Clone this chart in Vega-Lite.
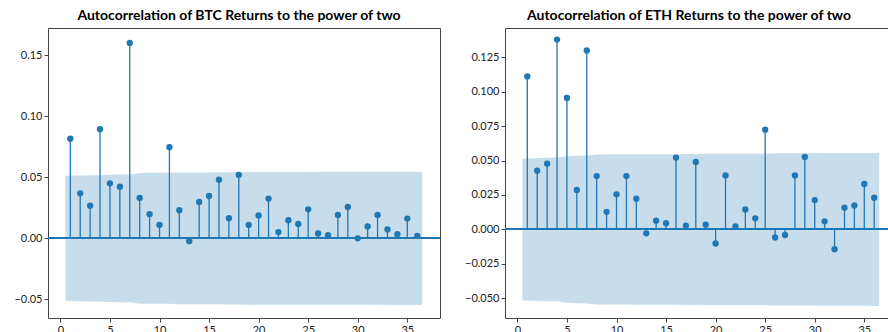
{
  "$schema": "https://vega.github.io/schema/vega-lite/v6.json",
  "autosize": {"type": "pad"},
  "padding": {"left": 13, "top": 8, "right": 0, "bottom": 0},
  "spacing": 22,
  "background": "white",
  "config": {
    "view": {"stroke": "#444", "strokeWidth": 1},
    "axis": {
      "grid": false, "domain": false, "tickColor": "#444", "tickSize": 4, "tickWidth": 1,
      "labelFont": "Lato", "labelFontSize": 11, "labelColor": "#222", "labelPadding": 2, "title": null
    },
    "title": {"font": "Lato", "fontSize": 14, "fontWeight": "bold", "color": "#000", "offset": 5}
  },
  "datasets": {
    "btc": [
      {"lag": 1, "acf": 0.0816, "bx": 0.5, "lo": -0.0513, "hi": 0.0513},
      {"lag": 2, "acf": 0.0369, "bx": 2, "lo": -0.0516, "hi": 0.0516},
      {"lag": 3, "acf": 0.0268, "bx": 3, "lo": -0.0517, "hi": 0.0517},
      {"lag": 4, "acf": 0.0894, "bx": 4, "lo": -0.0518, "hi": 0.0518},
      {"lag": 5, "acf": 0.0451, "bx": 5, "lo": -0.0522, "hi": 0.0522},
      {"lag": 6, "acf": 0.0423, "bx": 6, "lo": -0.0523, "hi": 0.0523},
      {"lag": 7, "acf": 0.1602, "bx": 7, "lo": -0.0523, "hi": 0.0523},
      {"lag": 8, "acf": 0.0331, "bx": 8, "lo": -0.0536, "hi": 0.0536},
      {"lag": 9, "acf": 0.0198, "bx": 9, "lo": -0.0537, "hi": 0.0537},
      {"lag": 10, "acf": 0.011, "bx": 10, "lo": -0.0537, "hi": 0.0537},
      {"lag": 11, "acf": 0.0747, "bx": 11, "lo": -0.0537, "hi": 0.0537},
      {"lag": 12, "acf": 0.023, "bx": 12, "lo": -0.054, "hi": 0.054},
      {"lag": 13, "acf": -0.0023, "bx": 13, "lo": -0.054, "hi": 0.054},
      {"lag": 14, "acf": 0.0298, "bx": 14, "lo": -0.054, "hi": 0.054},
      {"lag": 15, "acf": 0.0347, "bx": 15, "lo": -0.054, "hi": 0.054},
      {"lag": 16, "acf": 0.048, "bx": 16, "lo": -0.0541, "hi": 0.0541},
      {"lag": 17, "acf": 0.0165, "bx": 17, "lo": -0.0542, "hi": 0.0542},
      {"lag": 18, "acf": 0.052, "bx": 18, "lo": -0.0542, "hi": 0.0542},
      {"lag": 19, "acf": 0.011, "bx": 19, "lo": -0.0544, "hi": 0.0544},
      {"lag": 20, "acf": 0.0187, "bx": 20, "lo": -0.0544, "hi": 0.0544},
      {"lag": 21, "acf": 0.0326, "bx": 21, "lo": -0.0544, "hi": 0.0544},
      {"lag": 22, "acf": 0.0051, "bx": 22, "lo": -0.0544, "hi": 0.0544},
      {"lag": 23, "acf": 0.0149, "bx": 23, "lo": -0.0544, "hi": 0.0544},
      {"lag": 24, "acf": 0.0118, "bx": 24, "lo": -0.0544, "hi": 0.0544},
      {"lag": 25, "acf": 0.0238, "bx": 25, "lo": -0.0544, "hi": 0.0544},
      {"lag": 26, "acf": 0.004, "bx": 26, "lo": -0.0545, "hi": 0.0545},
      {"lag": 27, "acf": 0.0026, "bx": 27, "lo": -0.0545, "hi": 0.0545},
      {"lag": 28, "acf": 0.0192, "bx": 28, "lo": -0.0545, "hi": 0.0545},
      {"lag": 29, "acf": 0.0257, "bx": 29, "lo": -0.0545, "hi": 0.0545},
      {"lag": 30, "acf": 0.0, "bx": 30, "lo": -0.0545, "hi": 0.0545},
      {"lag": 31, "acf": 0.0097, "bx": 31, "lo": -0.0545, "hi": 0.0545},
      {"lag": 32, "acf": 0.0192, "bx": 32, "lo": -0.0545, "hi": 0.0545},
      {"lag": 33, "acf": 0.0073, "bx": 33, "lo": -0.0546, "hi": 0.0546},
      {"lag": 34, "acf": 0.0034, "bx": 34, "lo": -0.0546, "hi": 0.0546},
      {"lag": 35, "acf": 0.0162, "bx": 35, "lo": -0.0546, "hi": 0.0546},
      {"lag": 36, "acf": 0.002, "bx": 36.5, "lo": -0.0546, "hi": 0.0546}
    ],
    "eth": [
      {"lag": 1, "acf": 0.111, "bx": 0.5, "lo": -0.0513, "hi": 0.0513},
      {"lag": 2, "acf": 0.0426, "bx": 2, "lo": -0.0519, "hi": 0.0519},
      {"lag": 3, "acf": 0.0477, "bx": 3, "lo": -0.052, "hi": 0.052},
      {"lag": 4, "acf": 0.1377, "bx": 4, "lo": -0.0521, "hi": 0.0521},
      {"lag": 5, "acf": 0.0954, "bx": 5, "lo": -0.0531, "hi": 0.0531},
      {"lag": 6, "acf": 0.0287, "bx": 6, "lo": -0.0535, "hi": 0.0535},
      {"lag": 7, "acf": 0.1298, "bx": 7, "lo": -0.0536, "hi": 0.0536},
      {"lag": 8, "acf": 0.0387, "bx": 8, "lo": -0.0544, "hi": 0.0544},
      {"lag": 9, "acf": 0.0128, "bx": 9, "lo": -0.0545, "hi": 0.0545},
      {"lag": 10, "acf": 0.0255, "bx": 10, "lo": -0.0545, "hi": 0.0545},
      {"lag": 11, "acf": 0.0387, "bx": 11, "lo": -0.0545, "hi": 0.0545},
      {"lag": 12, "acf": 0.0223, "bx": 12, "lo": -0.0546, "hi": 0.0546},
      {"lag": 13, "acf": -0.0028, "bx": 13, "lo": -0.0546, "hi": 0.0546},
      {"lag": 14, "acf": 0.0064, "bx": 14, "lo": -0.0546, "hi": 0.0546},
      {"lag": 15, "acf": 0.0045, "bx": 15, "lo": -0.0546, "hi": 0.0546},
      {"lag": 16, "acf": 0.0521, "bx": 16, "lo": -0.0546, "hi": 0.0546},
      {"lag": 17, "acf": 0.0028, "bx": 17, "lo": -0.0547, "hi": 0.0547},
      {"lag": 18, "acf": 0.049, "bx": 18, "lo": -0.0547, "hi": 0.0547},
      {"lag": 19, "acf": 0.0035, "bx": 19, "lo": -0.0549, "hi": 0.0549},
      {"lag": 20, "acf": -0.0102, "bx": 20, "lo": -0.0549, "hi": 0.0549},
      {"lag": 21, "acf": 0.0392, "bx": 21, "lo": -0.0549, "hi": 0.0549},
      {"lag": 22, "acf": 0.0023, "bx": 22, "lo": -0.0549, "hi": 0.0549},
      {"lag": 23, "acf": 0.0145, "bx": 23, "lo": -0.0549, "hi": 0.0549},
      {"lag": 24, "acf": 0.0081, "bx": 24, "lo": -0.0549, "hi": 0.0549},
      {"lag": 25, "acf": 0.0724, "bx": 25, "lo": -0.0549, "hi": 0.0549},
      {"lag": 26, "acf": -0.0058, "bx": 26, "lo": -0.0552, "hi": 0.0552},
      {"lag": 27, "acf": -0.004, "bx": 27, "lo": -0.0552, "hi": 0.0552},
      {"lag": 28, "acf": 0.0392, "bx": 28, "lo": -0.0552, "hi": 0.0552},
      {"lag": 29, "acf": 0.0526, "bx": 29, "lo": -0.0552, "hi": 0.0552},
      {"lag": 30, "acf": 0.0213, "bx": 30, "lo": -0.0554, "hi": 0.0554},
      {"lag": 31, "acf": 0.0059, "bx": 31, "lo": -0.0554, "hi": 0.0554},
      {"lag": 32, "acf": -0.0143, "bx": 32, "lo": -0.0554, "hi": 0.0554},
      {"lag": 33, "acf": 0.0158, "bx": 33, "lo": -0.0554, "hi": 0.0554},
      {"lag": 34, "acf": 0.0174, "bx": 34, "lo": -0.0554, "hi": 0.0554},
      {"lag": 35, "acf": 0.033, "bx": 35, "lo": -0.0554, "hi": 0.0554},
      {"lag": 36, "acf": 0.023, "bx": 36.5, "lo": -0.0555, "hi": 0.0555}
    ]
  },
  "hconcat": [
    {
      "width": 392, "height": 290,
      "title": {"text": "Autocorrelation of BTC Returns to the power of two", "dx": -5},
      "data": {"name": "btc"},
      "layer": [
        {
          "mark": {"type": "area", "color": "#1f77b4", "opacity": 0.25},
          "encoding": {
            "x": {"field": "bx", "type": "quantitative", "title": null, "scale": {"domain": [-1.25, 38.3], "nice": false}, "axis": {"values": [0, 5, 10, 15, 20, 25, 30, 35], "format": "d"}},
            "y": {"field": "lo", "type": "quantitative", "title": null, "scale": {"domain": [-0.0653, 0.1724], "nice": false, "zero": false}, "axis": {"values": [-0.05, 0, 0.05, 0.1, 0.15], "format": ".2f"}},
            "y2": {"field": "hi"}
          }
        },
        {
          "mark": {"type": "rule", "color": "#1f77b4", "strokeWidth": 1.3},
          "encoding": {"y": {"datum": 0, "type": "quantitative", "title": null}}
        },
        {
          "mark": {"type": "rule", "color": "#1f77b4", "strokeWidth": 1.3},
          "encoding": {
            "x": {"field": "lag", "type": "quantitative", "title": null},
            "y": {"field": "acf", "type": "quantitative", "title": null},
            "y2": {"datum": 0}
          }
        },
        {
          "mark": {"type": "point", "filled": true, "opacity": 1, "size": 40, "color": "#1f77b4"},
          "encoding": {
            "x": {"field": "lag", "type": "quantitative", "title": null},
            "y": {"field": "acf", "type": "quantitative", "title": null}
          }
        }
      ]
    },
    {
      "width": 392, "height": 290,
      "title": {"text": "Autocorrelation of ETH Returns to the power of two", "dx": -12},
      "data": {"name": "eth"},
      "layer": [
        {
          "mark": {"type": "area", "color": "#1f77b4", "opacity": 0.25},
          "encoding": {
            "x": {"field": "bx", "type": "quantitative", "title": null, "scale": {"domain": [-1.25, 38.3], "nice": false}, "axis": {"values": [0, 5, 10, 15, 20, 25, 30, 35], "format": "d"}},
            "y": {"field": "lo", "type": "quantitative", "title": null, "scale": {"domain": [-0.0642, 0.1461], "nice": false, "zero": false}, "axis": {"values": [-0.05, -0.025, 0, 0.025, 0.05, 0.075, 0.1, 0.125], "format": ".3f"}},
            "y2": {"field": "hi"}
          }
        },
        {
          "mark": {"type": "rule", "color": "#1f77b4", "strokeWidth": 1.3},
          "encoding": {"y": {"datum": 0, "type": "quantitative", "title": null}}
        },
        {
          "mark": {"type": "rule", "color": "#1f77b4", "strokeWidth": 1.3},
          "encoding": {
            "x": {"field": "lag", "type": "quantitative", "title": null},
            "y": {"field": "acf", "type": "quantitative", "title": null},
            "y2": {"datum": 0}
          }
        },
        {
          "mark": {"type": "point", "filled": true, "opacity": 1, "size": 40, "color": "#1f77b4"},
          "encoding": {
            "x": {"field": "lag", "type": "quantitative", "title": null},
            "y": {"field": "acf", "type": "quantitative", "title": null}
          }
        }
      ]
    }
  ]
}
